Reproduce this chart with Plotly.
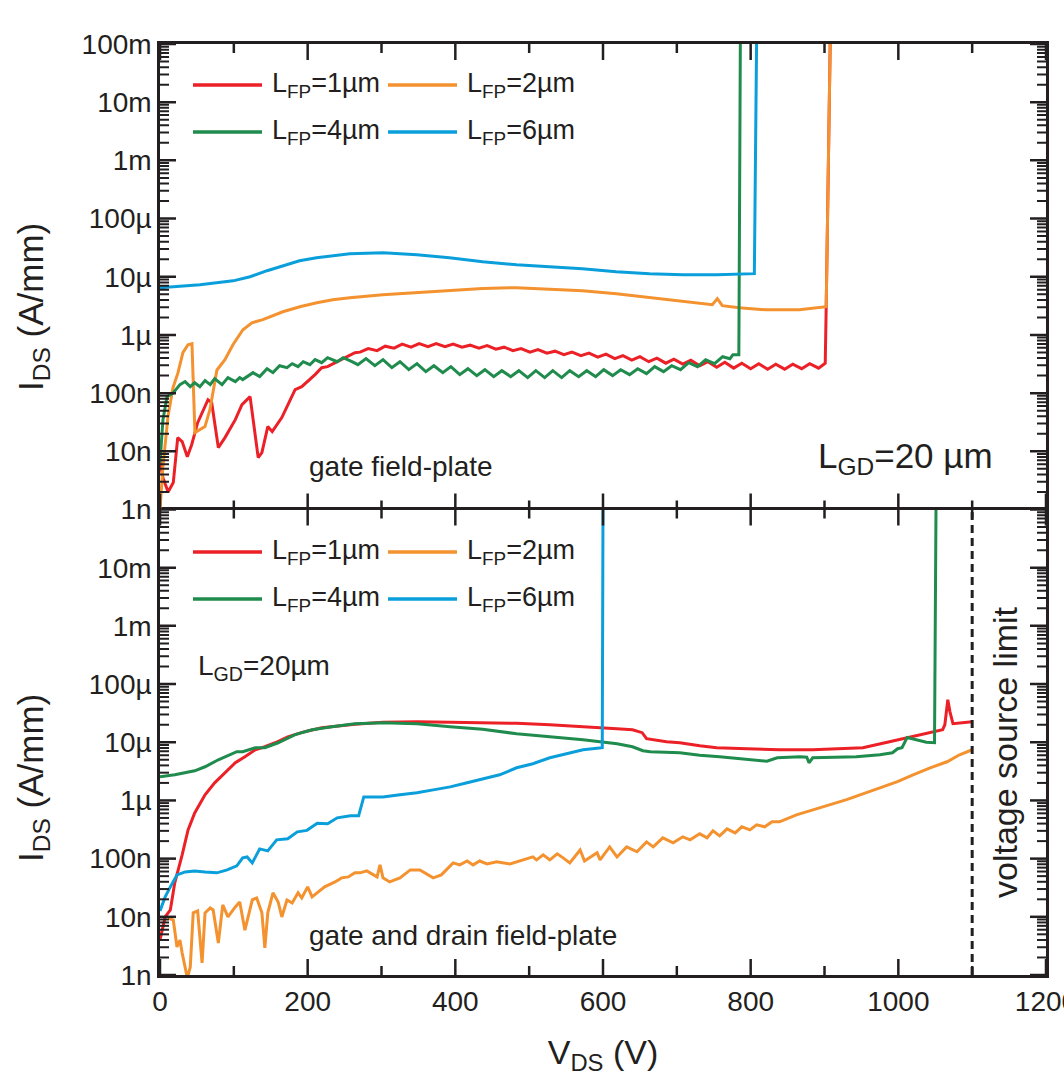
import plotly.graph_objects as go

FONT = "Liberation Sans, Arial, Helvetica, sans-serif"
INK = "#231f20"

# Field-plate lengths (µm) and their line colours
FP_LENGTHS = ["1", "2", "4", "6"]
FP_COLORS = {"1": "#ec2027", "2": "#f3922f", "4": "#1f8b4d", "6": "#0a9fdb"}

# ---------------- gate field-plate (upper panel): (V_DS [V], I_DS [A/mm]) ----------------
TOP_1UM = [
    (0, 6.7e-9), (4, 3.5e-9), (11, 2.0e-9), (18, 2.9e-9), (24, 1.72e-8), (30, 1.47e-8),
    (37, 8.1e-9), (43, 1.31e-8), (51, 3.1e-8), (65, 7.7e-8), (70, 6.9e-8), (79, 1.16e-8),
    (88, 1.72e-8), (102, 3.5e-8), (111, 6.35e-8), (122, 8.7e-8), (133, 7.8e-9), (138, 9.5e-9),
    (146, 2.66e-8), (152, 2.18e-8), (165, 3.8e-8), (173, 6.35e-8), (183, 1.15e-7), (192, 1.29e-7),
    (200, 1.58e-7), (210, 2.08e-7), (219, 2.74e-7), (227, 2.85e-7), (240, 3.47e-7), (251, 4.07e-7),
    (264, 4.96e-7), (271, 5.06e-7), (282, 5.81e-7), (294, 5.37e-7), (305, 6.41e-7), (317, 5.93e-7),
    (328, 6.94e-7), (340, 6.16e-7), (351, 7.08e-7), (363, 6.28e-7), (374, 7.08e-7), (386, 6.28e-7),
    (397, 6.94e-7), (409, 6.16e-7), (420, 6.67e-7), (432, 5.93e-7), (443, 6.54e-7), (455, 5.69e-7),
    (466, 6.16e-7), (478, 5.37e-7), (489, 5.81e-7), (501, 5.06e-7), (512, 5.58e-7), (524, 4.86e-7),
    (535, 5.26e-7), (547, 4.58e-7), (558, 5.06e-7), (570, 4.41e-7), (581, 4.86e-7), (593, 4.15e-7),
    (604, 4.67e-7), (616, 3.91e-7), (627, 4.41e-7), (639, 3.69e-7), (650, 4.24e-7), (662, 3.47e-7),
    (673, 3.99e-7), (685, 3.27e-7), (696, 3.84e-7), (708, 3.15e-7), (719, 3.69e-7), (731, 2.96e-7),
    (742, 3.47e-7), (754, 2.79e-7), (765, 3.40e-7), (777, 2.69e-7), (788, 3.27e-7), (800, 2.63e-7),
    (811, 3.21e-7), (823, 2.58e-7), (834, 3.15e-7), (846, 2.58e-7), (857, 3.15e-7), (869, 2.63e-7),
    (880, 3.21e-7), (892, 2.69e-7), (901, 3.27e-7), (902.3, 3.05e-6), (907.7, 1e-1),
]
TOP_2UM = [
    (0, 1e-9), (4, 5.5e-9), (10.8, 3.95e-8), (17.6, 1.24e-7), (24.4, 2.25e-7), (31, 4.95e-7),
    (37.9, 6.8e-7), (43.3, 7.1e-7), (47.3, 2.1e-8), (60.9, 2.66e-8), (67.6, 5.2e-8), (77.1, 2.5e-7),
    (87.9, 3.76e-7), (98.8, 6.8e-7), (112.3, 1.23e-6), (124.5, 1.62e-6), (139.3, 1.83e-6),
    (166.4, 2.5e-6), (189.4, 3.05e-6), (212.4, 3.58e-6), (234, 4.03e-6), (257, 4.36e-6),
    (301.7, 4.9e-6), (347.7, 5.3e-6), (392.3, 5.75e-6), (437, 6.3e-6), (483, 6.5e-6),
    (527.6, 6.2e-6), (572.2, 5.75e-6), (618.2, 5.1e-6), (662.9, 4.36e-6), (707.5, 3.72e-6),
    (748.1, 3.3e-6), (754.9, 4.2e-6), (761.6, 3.18e-6), (784.6, 2.94e-6), (821.1, 2.7e-6),
    (865.8, 2.7e-6), (902.3, 3.05e-6), (907.7, 1e-1),
]
TOP_4UM = [
    (0, 6.4e-9), (4, 3.5e-8), (9.5, 8.7e-8), (17.6, 1.0e-7), (27, 1.4e-7), (34, 1.58e-7),
    (41, 1.29e-7), (47, 1.51e-7), (54, 1.29e-7), (61, 1.64e-7), (68, 1.4e-7), (74, 1.77e-7),
    (84, 1.4e-7), (92, 1.85e-7), (102, 1.58e-7), (108, 1.85e-7), (112, 1.71e-7), (126, 2.25e-7),
    (135, 1.92e-7), (145, 2.63e-7), (153, 2.25e-7), (162, 2.96e-7), (172, 2.74e-7), (179, 3.21e-7),
    (187, 2.85e-7), (194, 3.47e-7), (203, 3.08e-7), (210, 3.76e-7), (219, 3.34e-7), (227, 4.07e-7),
    (240, 3.47e-7), (248, 4.07e-7), (260, 3.47e-7), (268, 3.08e-7), (279, 3.91e-7), (291, 2.96e-7),
    (302, 3.76e-7), (314, 2.74e-7), (325, 3.47e-7), (337, 2.53e-7), (348, 3.21e-7), (360, 2.34e-7),
    (371, 2.96e-7), (383, 2.25e-7), (394, 2.85e-7), (406, 2.08e-7), (417, 2.63e-7), (429, 2.0e-7),
    (440, 2.53e-7), (452, 1.92e-7), (463, 2.43e-7), (475, 1.92e-7), (486, 2.43e-7), (498, 1.85e-7),
    (509, 2.43e-7), (521, 1.85e-7), (532, 2.43e-7), (544, 1.85e-7), (555, 2.43e-7), (567, 1.92e-7),
    (578, 2.43e-7), (590, 1.92e-7), (601, 2.53e-7), (613, 2.0e-7), (624, 2.53e-7), (636, 2.08e-7),
    (647, 2.63e-7), (659, 2.16e-7), (670, 2.85e-7), (682, 2.34e-7), (693, 2.96e-7), (705, 2.53e-7),
    (716, 3.34e-7), (728, 2.85e-7), (739, 3.76e-7), (751, 3.21e-7), (762, 4.23e-7), (772, 3.91e-7),
    (776, 4.58e-7), (784, 4.58e-7), (786, 1e-1),
]
TOP_6UM = [
    (0, 6.5e-6), (54, 7.3e-6), (99, 8.5e-6), (122, 1.0e-5), (145, 1.27e-5), (166, 1.55e-5),
    (189, 1.88e-5), (212, 2.12e-5), (234, 2.29e-5), (257, 2.48e-5), (302, 2.58e-5), (348, 2.39e-5),
    (392, 2.12e-5), (437, 1.81e-5), (483, 1.61e-5), (528, 1.49e-5), (572, 1.37e-5), (618, 1.22e-5),
    (663, 1.13e-5), (708, 1.08e-5), (754, 1.08e-5), (805, 1.13e-5), (808, 1e-1),
]

# ---------------- gate and drain field-plate (lower panel) ----------------
BOT_1UM = [
    (0, 4.0e-9), (7, 1.0e-8), (14, 1.31e-8), (20, 3.83e-8), (30, 1.16e-7), (38, 3.12e-7),
    (47, 6.1e-7), (61, 1.25e-6), (74, 2.01e-6), (88, 2.99e-6), (102, 4.44e-6), (115, 5.63e-6),
    (129, 7.43e-6), (142, 8.37e-6), (156, 9.8e-6), (173, 1.24e-5), (196, 1.52e-5), (219, 1.78e-5),
    (241, 1.92e-5), (264, 2.04e-5), (302, 2.2e-5), (348, 2.25e-5), (393, 2.2e-5), (437, 2.17e-5),
    (483, 2.12e-5), (528, 2.0e-5), (573, 1.88e-5), (596, 1.78e-5), (619, 1.71e-5), (640, 1.64e-5),
    (653, 1.46e-5), (659, 1.15e-5), (686, 1.02e-5), (704, 9.8e-6), (731, 8.7e-6), (754, 8.04e-6),
    (795, 7.73e-6), (839, 7.43e-6), (884, 7.43e-6), (907, 7.58e-6), (952, 8.04e-6), (988, 1.02e-5),
    (1016, 1.24e-5), (1043, 1.46e-5), (1060, 1.64e-5), (1063, 2.0e-5), (1067, 5.38e-5),
    (1070, 3.3e-5), (1074, 2.08e-5), (1100, 2.25e-5),
]
BOT_2UM = [
    (11, 9.6e-9), (18, 8.8e-9), (23, 3.03e-9), (27, 4.0e-9), (30, 2.39e-9), (37, 8.9e-10),
    (41, 1.37e-9), (45, 1.17e-8), (51, 1.26e-8), (57, 1.61e-9), (61, 1.17e-8), (68, 1.42e-8),
    (72, 1.31e-8), (79, 3.55e-9), (85, 1.6e-8), (92, 9.95e-9), (102, 1.48e-8), (108, 1.8e-8),
    (115, 5.9e-9), (125, 1.95e-8), (131, 2.11e-8), (138, 1.17e-8), (142, 2.92e-9), (146, 1.17e-8),
    (153, 2.58e-8), (160, 1.8e-8), (165, 9.95e-9), (172, 1.95e-8), (179, 1.73e-8), (187, 2.58e-8),
    (192, 2.11e-8), (200, 3.27e-8), (206, 2.2e-8), (214, 2.68e-8), (223, 3.27e-8), (237, 3.98e-8),
    (246, 4.67e-8), (255, 4.85e-8), (264, 5.7e-8), (271, 5.7e-8), (280, 6.15e-8), (294, 4.85e-8),
    (298, 7.8e-8), (302, 4.67e-8), (311, 3.98e-8), (325, 4.67e-8), (339, 6.4e-8), (352, 6.4e-8),
    (370, 4.67e-8), (381, 5.25e-8), (397, 8.45e-8), (406, 7.8e-8), (416, 9.1e-8), (424, 7.8e-8),
    (433, 9.1e-8), (443, 8.1e-8), (456, 8.8e-8), (474, 8.1e-8), (491, 9.5e-8), (505, 1.07e-7),
    (510, 9.5e-8), (519, 1.16e-7), (528, 9.5e-8), (538, 1.21e-7), (546, 1.03e-7), (555, 8.45e-8),
    (569, 1.41e-7), (575, 9.1e-8), (592, 1.26e-7), (596, 9.5e-8), (609, 1.59e-7), (619, 1.07e-7),
    (632, 1.59e-7), (646, 1.31e-7), (659, 1.94e-7), (668, 1.59e-7), (681, 2.28e-7), (695, 1.87e-7),
    (708, 2.37e-7), (718, 2.1e-7), (731, 2.67e-7), (741, 2.28e-7), (749, 3.0e-7), (758, 2.46e-7),
    (768, 3.25e-7), (779, 2.77e-7), (788, 3.52e-7), (799, 3.12e-7), (808, 3.81e-7), (819, 3.52e-7),
    (829, 4.29e-7), (839, 4.29e-7), (862, 5.66e-7), (884, 6.9e-7), (907, 8.4e-7), (930, 1.03e-6),
    (952, 1.30e-6), (975, 1.65e-6), (998, 2.09e-6), (1020, 2.76e-6), (1043, 3.64e-6),
    (1066, 4.62e-6), (1083, 6.1e-6), (1100, 7.43e-6),
]
BOT_4UM = [
    (0, 2.55e-6), (20, 2.76e-6), (47, 3.23e-6), (61, 3.79e-6), (79, 5.0e-6), (104, 6.87e-6),
    (112, 6.87e-6), (129, 8.04e-6), (142, 8.04e-6), (160, 9.8e-6), (183, 1.35e-5), (206, 1.64e-5),
    (233, 1.85e-5), (264, 2.08e-5), (302, 2.17e-5), (348, 2.08e-5), (393, 1.85e-5), (437, 1.67e-5),
    (483, 1.40e-5), (528, 1.24e-5), (573, 1.10e-5), (619, 9.4e-6), (640, 8.37e-6), (654, 7.14e-6),
    (664, 6.87e-6), (704, 6.6e-6), (731, 5.97e-6), (758, 5.63e-6), (822, 4.71e-6), (836, 5.41e-6),
    (867, 5.63e-6), (876, 5.52e-6), (879, 4.44e-6), (884, 5.41e-6), (943, 5.63e-6), (975, 6.1e-6),
    (992, 6.6e-6), (999, 7.73e-6), (1005, 8.04e-6), (1012, 1.21e-5), (1024, 1.10e-5),
    (1038, 1.0e-5), (1049, 9.8e-6), (1051, 1e-1),
]
BOT_6UM = [
    (0, 1.26e-8), (7, 2.2e-8), (14, 3.27e-8), (23, 5.25e-8), (34, 5.9e-8), (47, 6.15e-8),
    (61, 5.9e-8), (77, 5.7e-8), (91, 6.4e-8), (104, 7.5e-8), (112, 1.03e-7), (118, 1.07e-7),
    (125, 8.45e-8), (135, 1.47e-7), (146, 1.36e-7), (158, 2.1e-7), (173, 2.19e-7), (186, 2.88e-7),
    (199, 3.06e-7), (213, 4.04e-7), (227, 3.96e-7), (240, 5.02e-7), (258, 5.44e-7), (269, 5.44e-7),
    (276, 1.15e-6), (302, 1.15e-6), (325, 1.25e-6), (348, 1.35e-6), (370, 1.52e-6), (393, 1.71e-6),
    (416, 2.01e-6), (437, 2.35e-6), (460, 2.76e-6), (483, 3.64e-6), (505, 4.27e-6), (528, 5.41e-6),
    (551, 6.34e-6), (573, 7.43e-6), (592, 7.88e-6), (599, 8.04e-6), (600, 1e-1),
]

TOP_SERIES = {"1": TOP_1UM, "2": TOP_2UM, "4": TOP_4UM, "6": TOP_6UM}
BOT_SERIES = {"1": BOT_1UM, "2": BOT_2UM, "4": BOT_4UM, "6": BOT_6UM}

VOLTAGE_LIMIT = 1100  # V

X_MAJOR = [0, 200, 400, 600, 800, 1000, 1200]
X_MINOR = [100, 300, 500, 700, 900, 1100]
Y_TICK_VALS = [1e-9, 1e-8, 1e-7, 1e-6, 1e-5, 1e-4, 1e-3, 1e-2, 1e-1]
Y_TICK_TEXT = ["1n", "10n", "100n", "1µ", "10µ", "100µ", "1m", "10m", "100m"]
Y_MINOR_VALS = [m * 10.0 ** e for e in range(-9, -1) for m in range(2, 10)]

# plot-area geometry in pixels
PLOT_W, PANEL_H = 886.0, 465.5
MAJOR_LEN, MINOR_LEN = 16.0, 9.0

fig = go.Figure()

for key in FP_LENGTHS:
    v, i = zip(*TOP_SERIES[key])
    fig.add_trace(go.Scatter(x=v, y=i, xaxis="x2", yaxis="y2", mode="lines",
                             name=f"L_FP={key}µm (gate FP)",
                             line=dict(color=FP_COLORS[key], width=3),
                             showlegend=False, hoverinfo="skip"))
for key in FP_LENGTHS:
    v, i = zip(*BOT_SERIES[key])
    fig.add_trace(go.Scatter(x=v, y=i, xaxis="x", yaxis="y", mode="lines",
                             name=f"L_FP={key}µm (gate+drain FP)",
                             line=dict(color=FP_COLORS[key], width=3),
                             showlegend=False, hoverinfo="skip"))

tick_font = dict(family=FONT, size=28, color=INK)
frame = dict(showline=True, linecolor=INK, linewidth=2.5, ticks="",
             showgrid=False, zeroline=False, automargin=False)

fig.update_layout(
    width=1064, height=1089,
    margin=dict(l=160, r=18, t=44, b=114),
    paper_bgcolor="white", plot_bgcolor="white",
    font=dict(family=FONT, color=INK),
    xaxis=dict(frame, anchor="y", mirror=True, range=[0, 1200], tickmode="array",
               tickvals=X_MAJOR, ticktext=[str(v) for v in X_MAJOR], tickfont=tick_font,
               ticklabeloverflow="allow",
               title=dict(text="V<sub>DS</sub> (V)", font=dict(family=FONT, size=34, color=INK),
                          standoff=24)),
    # upper panel: frame line only on top; its lower edge is the lower panel's top line
    xaxis2=dict(frame, anchor="y2", side="top", mirror=False, matches="x", range=[0, 1200],
                showticklabels=False),
    yaxis=dict(frame, anchor="x", mirror=True, domain=[0, 0.5], type="log", range=[-9, -1],
               tickmode="array", tickvals=Y_TICK_VALS[:-1], ticktext=Y_TICK_TEXT[:-1],
               tickfont=tick_font),
    yaxis2=dict(frame, anchor="x2", mirror=True, domain=[0.5, 1], type="log", range=[-9, -1],
                tickmode="array", tickvals=Y_TICK_VALS, ticktext=Y_TICK_TEXT,
                tickfont=tick_font),
)

# inside tick marks on all four sides of both panels
shapes = []
for xr, yr in (("x", "y"), ("x2", "y2")):
    for vals, length in ((X_MAJOR, MAJOR_LEN), (X_MINOR, MINOR_LEN)):
        frac = length / PANEL_H
        for v in vals:
            for base, sign in ((0, 1), (1, -1)):
                shapes.append(dict(type="line", xref=xr, yref=f"{yr} domain",
                                   x0=v, x1=v, y0=base, y1=base + sign * frac,
                                   line=dict(color=INK, width=2.5)))
    for vals, length, width in ((Y_TICK_VALS, MAJOR_LEN, 2.5), (Y_MINOR_VALS, MINOR_LEN, 2)):
        frac = length / PLOT_W
        for v in vals:
            for base, sign in ((0, 1), (1, -1)):
                shapes.append(dict(type="line", xref=f"{xr} domain", yref=yr,
                                   x0=base, x1=base + sign * frac, y0=v, y1=v,
                                   line=dict(color=INK, width=width)))

# voltage source limit marker in the lower panel
shapes.append(dict(type="line", xref="x", yref="y domain", x0=VOLTAGE_LIMIT,
                   x1=VOLTAGE_LIMIT, y0=0, y1=1,
                   line=dict(color=INK, width=3, dash="8px,5px")))


def px_x(px):
    return (px - 160) / 886.0


def px_y(py):
    return (975 - py) / 931.0


# legend blocks (2 x 2) for both panels
annotations = []
legend_rows = {"top": (85, 132), "bottom": (552, 599)}
legend_cols = [(193, 262, 270), (388, 457, 465)]
legend_layout = [("1", 0, 0), ("2", 0, 1), ("4", 1, 0), ("6", 1, 1)]
for panel, rows in legend_rows.items():
    for key, r, c in legend_layout:
        x0, x1, xt = legend_cols[c]
        yy = px_y(rows[r])
        shapes.append(dict(type="line", xref="paper", yref="paper", x0=px_x(x0),
                           x1=px_x(x1), y0=yy, y1=yy,
                           line=dict(color=FP_COLORS[key], width=3.5)))
        annotations.append(dict(xref="paper", yref="paper", x=px_x(xt), y=yy, xanchor="left",
                                yanchor="middle", showarrow=False,
                                text=f"L<sub>FP</sub>={key}µm",
                                font=dict(family=FONT, size=27, color=INK)))

texts = [
    ("gate field-plate", 307, 466, "left", 0, 28),
    ("L<sub>GD</sub>=20 µm", 816, 458, "left", 0, 35),
    ("L<sub>GD</sub>=20µm", 196, 667, "left", 0, 28),
    ("gate and drain field-plate", 307, 935, "left", 0, 28),
    ("voltage source limit", 1005, 752, "center", -90, 34),
    ("I<sub>DS</sub> (A/mm)", 33, 307, "center", -90, 35),
    ("I<sub>DS</sub> (A/mm)", 33, 778, "center", -90, 35),
]
for txt, xp, yp, xa, ang, size in texts:
    annotations.append(dict(xref="paper", yref="paper", x=px_x(xp), y=px_y(yp), xanchor=xa,
                            yanchor="middle", textangle=ang, showarrow=False, text=txt,
                            font=dict(family=FONT, size=size, color=INK)))

fig.update_layout(shapes=shapes, annotations=annotations)

fig.write_html("out.html")
